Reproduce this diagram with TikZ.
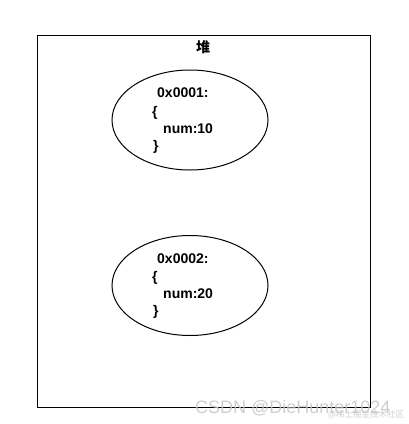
\documentclass[tikz,border=0pt]{standalone}
\usepackage{fontspec}
\setmainfont{Liberation Sans}
\newfontfamily\cjk{Noto Sans CJK SC}
\usetikzlibrary{shapes.geometric,positioning}

\begin{document}
\begin{tikzpicture}[x=1pt,y=-1pt,
    obj/.style={draw,ellipse,line width=1pt,minimum width=156pt,minimum height=100pt},
    mem/.style={anchor=base west,inner sep=0pt,font=\bfseries\fontsize{14}{16}\selectfont},
    wmark/.style={text=gray!45,opacity=0.85,inner sep=0pt}]
  \useasboundingbox (0,0) rectangle (408,424);
  \node (heap) [draw,line width=1pt,anchor=north west,minimum width=333pt,minimum height=372pt] at (37,35) {};
  \node (title) [font=\cjk\bfseries\fontsize{14}{16}\selectfont] at (203,47) {堆};

  % first object
  \node (o1) [obj] at (190,120) {};
  \node (a1) [mem] at (157,97.7) {0x0001:};
  \node (b1) [mem] at (152,116.4) {\{};
  \node (n1) [mem] at (163,133.5) {num:10};
  \node (c1) [mem] at (153,150.4) {\}};

  % second object
  \node (o2) [obj] at (190,285.5) {};
  \node (a2) [mem] at (157,263.7) {0x0002:};
  \node (b2) [mem] at (152,281.4) {\{};
  \node (n2) [mem] at (163,298.5) {num:20};
  \node (c2) [mem] at (153,315.4) {\}};

  \node (wm) [wmark,anchor=west,font=\fontsize{18}{20}\selectfont] at (195,408) {CSDN @DieHunter1024};
  \node (wm2) [wmark,anchor=west,font=\cjk\fontsize{8.5}{10}\selectfont] at (328,415) {@稀土掘金技术社区};
\end{tikzpicture}
\end{document}
